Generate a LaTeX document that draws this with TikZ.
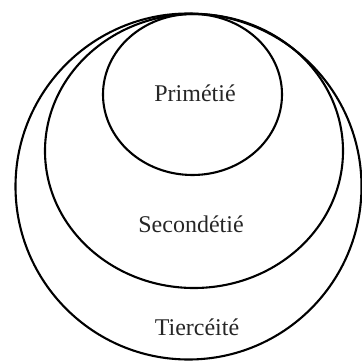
\documentclass[tikz,border=0pt]{standalone}
\usepackage{fontspec}
\setmainfont{Liberation Serif}
\begin{document}
\begin{tikzpicture}[x=1pt,y=-1pt,
  ring/.style={draw=black,line width=2.1pt},
  lbl/.style={font=\fontsize{24}{26}\selectfont,text=black!85,inner sep=0pt}]
\useasboundingbox (0,0) rectangle (362,361);
\begin{scope}
\clip (0,0) rectangle (362,361);
\draw[ring] (188.5,186.5) circle [radius=173];
\draw[ring] (194,151) ellipse [x radius=149, y radius=137];
\draw[ring] (192.5,94.5) ellipse [x radius=89.5, y radius=80.5];
\end{scope}
\node[lbl] (p) at (195,93) {Primétié};
\node[lbl] (s) at (191,224) {Secondétié};
\node[lbl] (t) at (197,327) {Tiercéité};
\end{tikzpicture}
\end{document}
